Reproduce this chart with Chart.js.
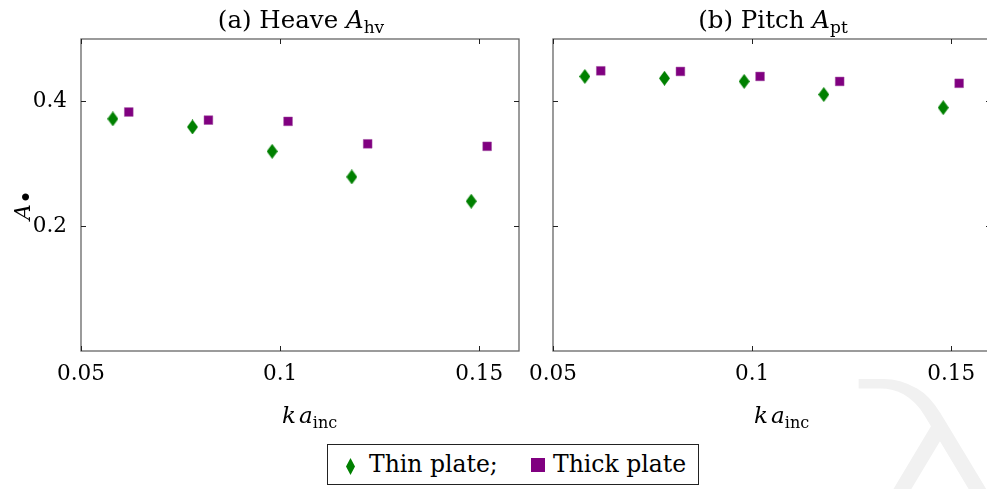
<!DOCTYPE html>
<html>
<head>
<meta charset="utf-8">
<script src="https://cdn.jsdelivr.net/npm/chart.js@4.4.0/dist/chart.umd.min.js"></script>
<style>
  body { margin: 0; background: #fff; }
  #fig { position: relative; width: 987px; height: 489px; overflow: hidden; font-family: "DejaVu Serif", serif; }
  #left { position: absolute; left: 0; top: 0; }
  #right { position: absolute; left: 520px; top: 0; }
  #mark { position: absolute; left: 829px; top: 352px; font: 200 250px "DejaVu Sans", sans-serif; color: #f1f1f1; line-height: 1;
          transform: scaleX(1.5); transform-origin: 0 0; }
  #legend { position: absolute; left: 327px; top: 444px; width: 370px; height: 39px; border: 1px solid #222; background: #fff; }
  #legend .lt { position: absolute; top: 7px; font-size: 23.5px; line-height: 24px; color: #000; white-space: nowrap; }
  #legend .dia { position: absolute; left: 18px; top: 13px; width: 9px; height: 17px; background: #008000;
                 clip-path: polygon(50% 0, 100% 50%, 50% 100%, 0 50%); }
  #legend .sq { position: absolute; left: 203px; top: 13px; width: 14px; height: 14px; background: #800080; }
</style>
</head>
<body>
<div id="fig">
  <span id="mark">λ</span>
  <canvas id="left" width="540" height="489"></canvas>
  <canvas id="right" width="500" height="489"></canvas>
  <div id="legend">
    <span class="dia"></span><span class="lt" style="left:41px">Thin plate;</span>
    <span class="sq"></span><span class="lt" style="left:225px">Thick plate</span>
  </div>
</div>
<script>
// k a_inc positions (thin plate shifted left, thick plate shifted right)
const kaThin = [0.058, 0.078, 0.098, 0.118, 0.148];
const kaThick = [0.062, 0.082, 0.102, 0.122, 0.152];

const heaveThin = [0.372, 0.359, 0.320, 0.279, 0.240];
const heaveThick = [0.383, 0.370, 0.368, 0.332, 0.328];
const pitchThin = [0.440, 0.437, 0.432, 0.411, 0.390];
const pitchThick = [0.449, 0.448, 0.440, 0.432, 0.429];

const xTicks = [0.05, 0.1, 0.15];
const yTicks = [0.2, 0.4];
const xRange = [0.05, 0.16];
const yRange = [0, 0.5];

const GREEN = '#008000';
const PURPLE = '#800080';
const SERIF = '"DejaVu Serif", serif';

function diamond(w, h, color) {
    const c = document.createElement('canvas');
    c.width = w; c.height = h;
    const g = c.getContext('2d');
    g.fillStyle = color;
    g.beginPath();
    g.moveTo(w / 2, 0); g.lineTo(w, h / 2); g.lineTo(w / 2, h); g.lineTo(0, h / 2);
    g.closePath();
    g.fill();
    return c;
}
const thinMarker = diamond(11, 15, GREEN);

// draw a run of text pieces (for sub-scripts), align = 'center' or 'left'
function drawParts(ctx, parts, x, y, align) {
    let total = 0;
    parts.forEach(p => { ctx.font = p.font; p.w = ctx.measureText(p.t).width; total += p.w; });
    let cx = align === 'center' ? x - total / 2 : x;
    ctx.textAlign = 'left';
    ctx.textBaseline = 'alphabetic';
    parts.forEach(p => { ctx.font = p.font; ctx.fillText(p.t, cx, y + (p.dy || 0)); cx += p.w; });
}

const framePlugin = {
    id: 'frame',
    beforeDatasetsDraw(chart) {
        const {ctx, chartArea: a, scales: {x, y}} = chart;
        ctx.save();
        ctx.strokeStyle = '#666';
        ctx.lineWidth = 1.3;
        ctx.strokeRect(a.left, a.top, a.right - a.left, a.bottom - a.top);
        ctx.strokeStyle = '#222';
        ctx.lineWidth = 1;
        ctx.beginPath();
        xTicks.forEach(v => {
            const p = Math.round(x.getPixelForValue(v)) + 0.5;
            ctx.moveTo(p, a.bottom); ctx.lineTo(p, a.bottom - 5);
            ctx.moveTo(p, a.top); ctx.lineTo(p, a.top + 5);
        });
        yTicks.forEach(v => {
            const p = Math.round(y.getPixelForValue(v)) + 0.5;
            ctx.moveTo(a.left, p); ctx.lineTo(a.left + 5, p);
            ctx.moveTo(a.right, p); ctx.lineTo(a.right - 5, p);
        });
        ctx.stroke();
        ctx.restore();
    },
    afterDraw(chart, args, opts) {
        const {ctx, chartArea: a} = chart;
        ctx.save();
        ctx.fillStyle = '#000';
        drawParts(ctx, [
            {t: opts.title, font: '24.5px ' + SERIF},
            {t: 'A', font: 'italic 24.5px ' + SERIF},
            {t: opts.sub, font: '17px ' + SERIF, dy: 5}
        ], (a.left + a.right) / 2 + 1, 28, 'center');
        drawParts(ctx, [
            {t: 'k', font: 'italic 23px ' + SERIF},
            {t: ' ', font: '10px ' + SERIF},
            {t: 'a', font: 'italic 23px ' + SERIF},
            {t: 'inc', font: '16px ' + SERIF, dy: 5}
        ], a.left + 201, 423, 'left');
        if (opts.ylabel) {
            ctx.translate(30, 220);
            ctx.rotate(-Math.PI / 2);
            drawParts(ctx, [
                {t: 'A', font: 'italic 22px ' + SERIF},
                {t: '•', font: '24px ' + SERIF, dy: 5}
            ], 0, 0, 'left');
        }
        ctx.restore();
    }
};

function makeChart(id, thin, thick, title, sub, showY, yWidth, padRight) {
    new Chart(document.getElementById(id), {
        type: 'scatter',
        data: {
            datasets: [
                {
                    label: 'Thin plate',
                    data: kaThin.map((k, i) => ({x: k, y: thin[i]})),
                    pointStyle: thinMarker,
                    backgroundColor: GREEN,
                    borderColor: GREEN
                },
                {
                    label: 'Thick plate',
                    data: kaThick.map((k, i) => ({x: k, y: thick[i]})),
                    pointStyle: 'rect',
                    pointRadius: 6.2,
                    backgroundColor: PURPLE,
                    borderColor: 'rgba(160,80,160,0.6)',
                    borderWidth: 0.8
                }
            ]
        },
        options: {
            responsive: false,
            animation: false,
            layout: {padding: {top: 39, left: 0, right: padRight, bottom: 0}},
            plugins: {
                legend: {display: false},
                tooltip: {enabled: false},
                frame: {title: title, sub: sub, ylabel: showY}
            },
            scales: {
                x: {
                    type: 'linear',
                    min: xRange[0],
                    max: xRange[1],
                    afterBuildTicks: s => { s.ticks = xTicks.map(v => ({value: v})); },
                    afterFit: s => { s.height = 489 - 351; },
                    grid: {display: false},
                    border: {display: false},
                    ticks: {
                        padding: 3,
                        color: '#000',
                        font: {family: SERIF, size: 21.5},
                        callback: v => String(v)
                    }
                },
                y: {
                    type: 'linear',
                    min: yRange[0],
                    max: yRange[1],
                    afterBuildTicks: s => { s.ticks = yTicks.map(v => ({value: v})); },
                    afterFit: s => { s.width = yWidth; },
                    grid: {display: false},
                    border: {display: false},
                    ticks: {
                        display: showY,
                        padding: 6,
                        color: '#000',
                        font: {family: SERIF, size: 21.5},
                        callback: v => String(v)
                    }
                }
            }
        },
        plugins: [framePlugin]
    });
}

makeChart('left', heaveThin, heaveThick, '(a) Heave ', 'hv', true, 81, 21);
makeChart('right', pitchThin, pitchThick, '(b) Pitch ', 'pt', false, 33, 29);
</script>
</body>
</html>
